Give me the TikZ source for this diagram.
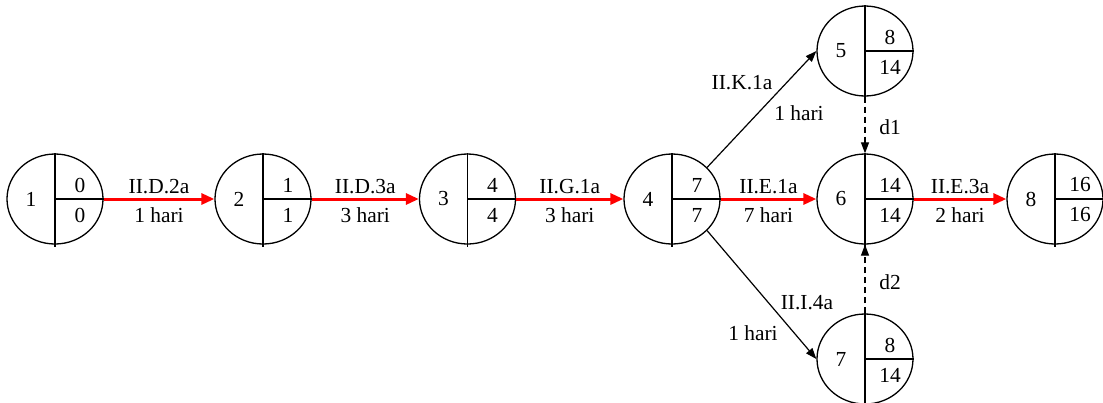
\documentclass[tikz,border=0pt]{standalone}
\usepackage{fontspec}
\setmainfont{Liberation Serif}
\usetikzlibrary{arrows.meta,shapes.geometric}
\newcommand\eventnode[5]{%
  \node[ev] (#1) at (#2) {};
  \draw[divider] (#1.north) -- ([yshift=-2bp]#1.south);
  \draw[divider] (#1.center) -- (#1.east);
  \node[lbl] (#1num) at ([xshift=-24bp]#1.center) {#3};
  \node[lbl] (#1es) at ([xshift=25bp,yshift=14bp]#1.center) {#4};
  \node[lbl] (#1lf) at ([xshift=25bp,yshift=-16bp]#1.center) {#5};
}
\begin{document}
\begin{tikzpicture}[x=1bp,y=-1bp,
  ev/.style={draw, ellipse, line width=1.3bp, minimum width=96bp, minimum height=90bp, inner sep=0},
  divider/.style={line width=1.8bp},
  crit/.style={draw=red, line width=3bp, -{Triangle[length=13bp,width=11bp]}},
  act/.style={draw, line width=1.2bp, -{Triangle[length=11bp,width=8bp]}},
  dum/.style={draw, line width=1.2bp, dash pattern=on 6bp off 4bp, -{Triangle[length=11bp,width=8bp]}},
  lbl/.style={font=\fontsize{21.5}{25}\selectfont, inner sep=0}
]
\useasboundingbox (0,0) rectangle (1103,402);
\eventnode{n1}{55,199}{1}{0}{0}
\eventnode{n2}{263,199}{2}{1}{1}
\eventnode{n3}{467.5,199}{3}{4}{4}
\eventnode{n4}{672,199}{4}{7}{7}
\eventnode{n6}{865,199}{6}{14}{14}
\eventnode{n8}{1055,199}{8}{16}{16}
\eventnode{n5}{865,51}{5}{8}{14}
\eventnode{n7}{865,359}{7}{8}{14}

\draw[crit] (n1.east) -- node[lbl, midway, yshift=12bp] (l12a) {II.D.2a} node[lbl, midway, yshift=-16bp] (l12b) {1 hari} (n2.west);
\draw[crit] (n2.east) -- node[lbl, midway, yshift=12bp] (l23a) {II.D.3a} node[lbl, midway, yshift=-16bp] (l23b) {3 hari} (n3.west);
\draw[crit] (n3.east) -- node[lbl, midway, yshift=12bp] (l34a) {II.G.1a} node[lbl, midway, yshift=-16bp] (l34b) {3 hari} (n4.west);
\draw[crit] (n4.east) -- node[lbl, midway, yshift=12bp] (l46a) {II.E.1a} node[lbl, midway, yshift=-16bp] (l46b) {7 hari} (n6.west);
\draw[crit] (n6.east) -- node[lbl, midway, yshift=12bp] (l68a) {II.E.3a} node[lbl, midway, yshift=-16bp] (l68b) {2 hari} (n8.west);

\draw[act] (n4.42) -- (n5.west);
\draw[act] (n4.-42) -- (n7.west);
\node[lbl] (l45a) at (742,83) {II.K.1a};
\node[lbl] (l45b) at (799,113) {1 hari};
\node[lbl] (l47a) at (807,303) {II.I.4a};
\node[lbl] (l47b) at (753,333) {1 hari};

\draw[dum] (n5.south) -- (n6.north);
\draw[dum] (n7.north) -- (n6.south);
\node[lbl] (d1) at (890,127) {d1};
\node[lbl] (d2) at (890,282) {d2};
\end{tikzpicture}
\end{document}
